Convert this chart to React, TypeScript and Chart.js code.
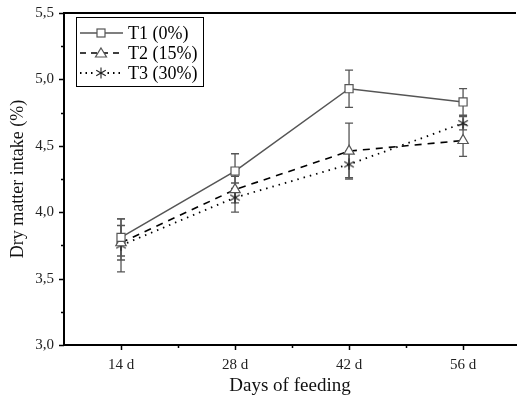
import React, { useEffect, useRef } from "react";
import { Chart, registerables } from "chart.js";
Chart.register(...registerables);

const days = [14, 28, 42, 56];
const xMinor = [21, 35, 49];
const t1 = [3.81, 4.31, 4.93, 4.83];
const t1Err = [0.14, 0.13, 0.14, 0.1];
const t2 = [3.77, 4.17, 4.46, 4.54];
const t2Err = [0.13, 0.1, 0.21, 0.12];
const t3 = [3.75, 4.11, 4.36, 4.67];
const t3Err = [0.2, 0.11, 0.1, 0.05];
const seriesLabels = ["T1 (0%)", "T2 (15%)", "T3 (30%)"];
const yTicks = [3.0, 3.5, 4.0, 4.5, 5.0, 5.5];
const yMinor = [3.25, 3.75, 4.25, 4.75, 5.25];

const FONT = "'Liberation Serif', 'Times New Roman', serif";
const GRAY = "#555555";

function makeAsterisk(size: number, color: string) {
  const c = document.createElement("canvas");
  c.width = size;
  c.height = size;
  const ctx = c.getContext("2d")!;
  const r = size / 2 - 0.5;
  const cx = size / 2;
  const cy = size / 2;
  ctx.strokeStyle = color;
  ctx.lineWidth = 1.1;
  ctx.beginPath();
  for (const a of [90, 30, 150]) {
    const rad = (a * Math.PI) / 180;
    ctx.moveTo(cx - r * Math.cos(rad), cy - r * Math.sin(rad));
    ctx.lineTo(cx + r * Math.cos(rad), cy + r * Math.sin(rad));
  }
  ctx.stroke();
  return c;
}

function drawSquare(ctx: CanvasRenderingContext2D, x: number, y: number) {
  ctx.save();
  ctx.fillStyle = "#fff";
  ctx.strokeStyle = GRAY;
  ctx.lineWidth = 1.2;
  ctx.setLineDash([]);
  ctx.fillRect(x - 4, y - 4, 8, 8);
  ctx.strokeRect(x - 4, y - 4, 8, 8);
  ctx.restore();
}
function drawTriangle(ctx: CanvasRenderingContext2D, x: number, y: number) {
  ctx.save();
  ctx.fillStyle = "#fff";
  ctx.strokeStyle = GRAY;
  ctx.lineWidth = 1.2;
  ctx.setLineDash([]);
  ctx.beginPath();
  ctx.moveTo(x, y - 5);
  ctx.lineTo(x + 5.5, y + 4);
  ctx.lineTo(x - 5.5, y + 4);
  ctx.closePath();
  ctx.fill();
  ctx.stroke();
  ctx.restore();
}

const errorSets = [
  { vals: t1, errs: t1Err },
  { vals: t2, errs: t2Err },
  { vals: t3, errs: t3Err },
];

const errorBarPlugin = {
  id: "errorBars",
  beforeDatasetsDraw(chart: any) {
    const { ctx, scales } = chart;
    const xs = scales.x;
    const ys = scales.y;
    ctx.save();
    ctx.strokeStyle = GRAY;
    ctx.lineWidth = 1.3;
    errorSets.forEach((s) => {
      s.vals.forEach((v, i) => {
        const x = xs.getPixelForValue(days[i]);
        const yt = ys.getPixelForValue(v + s.errs[i]);
        const yb = ys.getPixelForValue(v - s.errs[i]);
        ctx.beginPath();
        ctx.moveTo(x, yt);
        ctx.lineTo(x, yb);
        ctx.moveTo(x - 4, yt);
        ctx.lineTo(x + 4, yt);
        ctx.moveTo(x - 4, yb);
        ctx.lineTo(x + 4, yb);
        ctx.stroke();
      });
    });
    ctx.restore();
  },
};

const framePlugin = {
  id: "frame",
  afterDraw(chart: any) {
    const { ctx, chartArea, scales } = chart;
    const xs = scales.x;
    const ys = scales.y;
    ctx.save();
    ctx.strokeStyle = "#000";
    ctx.lineWidth = 2;
    ctx.beginPath();
    ctx.moveTo(chartArea.left - 1, chartArea.top);
    ctx.lineTo(chartArea.right, chartArea.top);
    ctx.stroke();
    ctx.lineWidth = 1.5;
    ctx.beginPath();
    days.forEach((d) => {
      const x = Math.round(xs.getPixelForValue(d)) + 0.5;
      ctx.moveTo(x, chartArea.bottom);
      ctx.lineTo(x, chartArea.bottom + 5);
    });
    xMinor.forEach((d) => {
      const x = Math.round(xs.getPixelForValue(d)) + 0.5;
      ctx.moveTo(x, chartArea.bottom);
      ctx.lineTo(x, chartArea.bottom + 3);
    });
    yTicks.forEach((v) => {
      const y = Math.round(ys.getPixelForValue(v)) + 0.5;
      ctx.moveTo(chartArea.left, y);
      ctx.lineTo(chartArea.left - 5, y);
    });
    yMinor.forEach((v) => {
      const y = Math.round(ys.getPixelForValue(v)) + 0.5;
      ctx.moveTo(chartArea.left, y);
      ctx.lineTo(chartArea.left - 3, y);
    });
    ctx.stroke();

    // legend
    const bx = 76.5, by = 17.5, bw = 127, bh = 69;
    ctx.lineWidth = 1;
    ctx.strokeStyle = "#000";
    ctx.strokeRect(bx, by, bw, bh);
    const rows = [33, 53, 73];
    const lx0 = 80, lx1 = 123, mx = 101;
    ctx.font = `18px ${FONT}`;
    ctx.fillStyle = "#000";
    ctx.textBaseline = "middle";
    ctx.textAlign = "left";
    // T1
    ctx.strokeStyle = GRAY;
    ctx.lineWidth = 1.5;
    ctx.setLineDash([]);
    ctx.beginPath();
    ctx.moveTo(lx0, rows[0]);
    ctx.lineTo(lx1, rows[0]);
    ctx.stroke();
    drawSquare(ctx, mx, rows[0]);
    // T2
    ctx.strokeStyle = "#000";
    ctx.setLineDash([6, 5]);
    ctx.beginPath();
    ctx.moveTo(lx0, rows[1]);
    ctx.lineTo(lx1, rows[1]);
    ctx.stroke();
    ctx.setLineDash([]);
    drawTriangle(ctx, mx, rows[1]);
    // T3
    ctx.setLineDash([1.5, 4]);
    ctx.lineWidth = 1.8;
    ctx.beginPath();
    ctx.moveTo(lx0, rows[2]);
    ctx.lineTo(lx1, rows[2]);
    ctx.stroke();
    ctx.setLineDash([]);
    ctx.fillStyle = "#fff";
    ctx.fillRect(mx - 6, rows[2] - 6, 12, 12);
    ctx.drawImage(makeAsterisk(12, "#222"), mx - 6, rows[2] - 6);
    ctx.fillStyle = "#000";
    seriesLabels.forEach((t, i) => ctx.fillText(t, 128, rows[i] + 1));
    ctx.restore();
  },
};

export default function App() {
  const ref = useRef<HTMLCanvasElement | null>(null);
  useEffect(() => {
    if (!ref.current) return;
    const star = makeAsterisk(12, "#222");
    const chart = new Chart(ref.current, {
      type: "line",
      data: {
        datasets: [
          {
            label: seriesLabels[0],
            data: days.map((d, i) => ({ x: d, y: t1[i] })),
            borderColor: GRAY,
            borderWidth: 1.5,
            pointStyle: "rect",
            pointRadius: 5.7,
            pointBackgroundColor: "#fff",
            pointBorderColor: GRAY,
            pointBorderWidth: 1.2,
          },
          {
            label: seriesLabels[1],
            data: days.map((d, i) => ({ x: d, y: t2[i] })),
            borderColor: "#000",
            borderWidth: 1.6,
            borderDash: [7, 6],
            pointStyle: "triangle",
            pointRadius: 6,
            pointBackgroundColor: "#fff",
            pointBorderColor: GRAY,
            pointBorderWidth: 1.2,
          },
          {
            label: seriesLabels[2],
            data: days.map((d, i) => ({ x: d, y: t3[i] })),
            borderColor: "#000",
            borderWidth: 1.8,
            borderDash: [1.5, 5],
            pointStyle: star as any,
            pointRadius: 6,
          },
        ],
      },
      options: {
        responsive: false,
        animation: false,
        layout: { autoPadding: false, padding: { top: 13, right: 1, left: 0, bottom: 0 } },
        plugins: { legend: { display: false }, tooltip: { enabled: false } },
        scales: {
          x: {
            type: "linear",
            min: 7,
            max: 62.5,
            afterBuildTicks: (s: any) => {
              s.ticks = days.map((v) => ({ value: v }));
            },
            afterFit: (s: any) => {
              s.height = 57;
              s.paddingLeft = 0;
              s.paddingRight = 0;
            },
            grid: { display: false, drawTicks: false },
            border: { color: "#000", width: 2 },
            ticks: {
              padding: 11,
              color: "#222",
              font: { family: FONT, size: 15 },
              callback: (v: any) => `${v} d`,
              maxRotation: 0,
            },
            title: {
              display: true,
              text: "Days of feeding",
              color: "#111",
              font: { family: FONT, size: 19 },
              padding: { top: 0, bottom: 5 },
            },
          },
          y: {
            type: "linear",
            min: 3,
            max: 5.5,
            afterBuildTicks: (s: any) => {
              s.ticks = yTicks.map((v) => ({ value: v }));
            },
            afterFit: (s: any) => {
              s.width = 64;
              s.paddingTop = 0;
              s.paddingBottom = 0;
            },
            grid: { display: false, drawTicks: false },
            border: { color: "#000", width: 2 },
            ticks: {
              padding: 10,
              color: "#222",
              font: { family: FONT, size: 15 },
              callback: (v: any) => Number(v).toFixed(1).replace(".", ","),
            },
            title: {
              display: true,
              text: "Dry matter intake (%)",
              color: "#111",
              font: { family: FONT, size: 18 },
              padding: { top: 7, bottom: 0 },
            },
          },
        },
      },
      plugins: [errorBarPlugin, framePlugin],
    });
    return () => chart.destroy();
  }, []);
  return (
    <div style={{ position: "absolute", left: 0, top: 0, width: 517, height: 402, background: "#fff" }}>
      <canvas ref={ref} width={517} height={402} style={{ display: "block" }} />
    </div>
  );
}
